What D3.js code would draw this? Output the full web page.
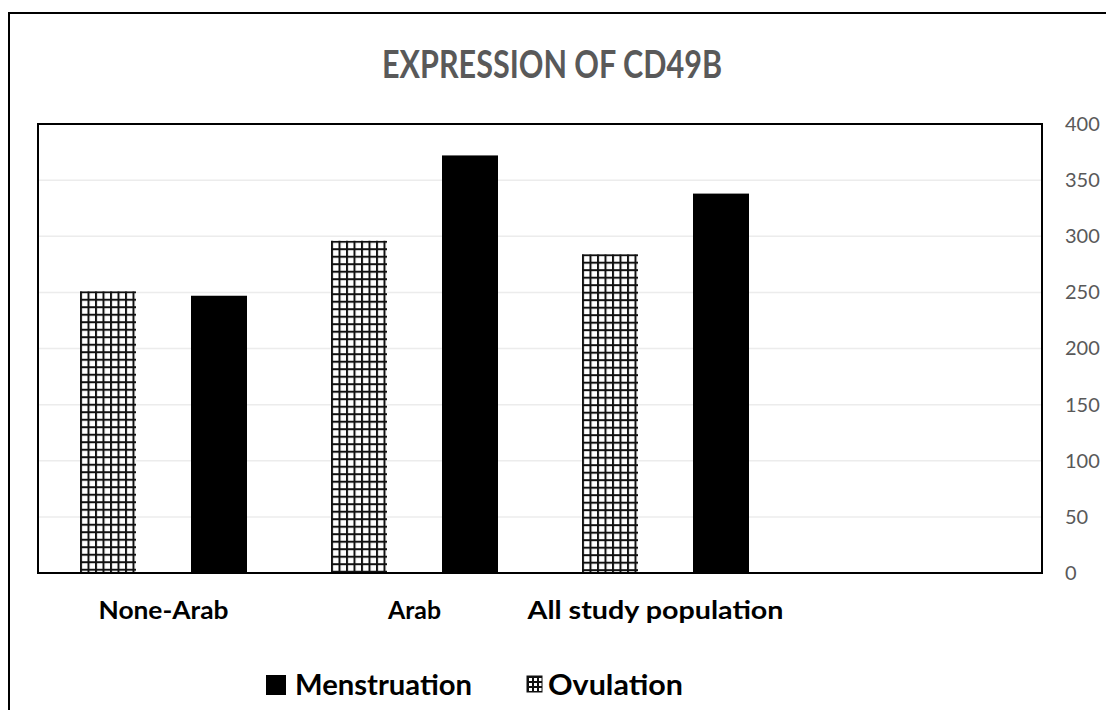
<!DOCTYPE html>
<html>
<head>
<meta charset="utf-8">
<script src="https://cdn.jsdelivr.net/npm/d3@7"></script>
<style>
  body { margin: 0; background: #fff; }
  svg text { font-family: Lato, "Open Sans", sans-serif; }
</style>
</head>
<body>
<svg id="chart" width="1106" height="710"></svg>
<script>
// data
var categories = ["None-Arab", "Arab", "All study population", ""];
var ovulation = [251, 296, 284, null];
var menstruation = [247, 372, 338, null];
var yTicks = [0, 50, 100, 150, 200, 250, 300, 350, 400];
var seriesNames = ["Menstruation", "Ovulation"];

var svg = d3.select("#chart"),
    width = 1106,
    height = 710;

var plot = {left: 38, top: 124, right: 1042, bottom: 573};

var x = d3.scaleBand()
    .domain(categories.map(function (d, i) { return i; }))
    .range([plot.left, plot.right]);

var y = d3.scaleLinear()
    .domain([0, 400])
    .range([plot.bottom, plot.top]);

var defs = svg.append("defs");

// grid hatch, one pattern per bar so it lines up with the bar edge
function hatch(id, x0, y0, step) {
    var p = defs.append("pattern")
        .attr("id", id)
        .attr("patternUnits", "userSpaceOnUse")
        .attr("x", x0)
        .attr("y", y0)
        .attr("width", step)
        .attr("height", step);
    p.append("rect").attr("width", step).attr("height", step).attr("fill", "#fff");
    p.append("rect").attr("x", 0).attr("y", 0).attr("width", 2).attr("height", step).attr("fill", "#111");
    p.append("rect").attr("x", 0).attr("y", 0).attr("width", step).attr("height", 2).attr("fill", "#111");
    return "url(#" + id + ")";
}

// outer chart border (runs past the right and bottom edge)
svg.append("rect")
    .attr("x", 9)
    .attr("y", 13)
    .attr("width", width + 20)
    .attr("height", height + 20)
    .attr("fill", "none")
    .attr("stroke", "#000")
    .attr("stroke-width", 2);

// title
svg.append("text")
    .attr("x", 552)
    .attr("y", 78)
    .attr("text-anchor", "middle")
    .attr("fill", "#595959")
    .attr("font-size", 38)
    .attr("font-weight", "bold")
    .attr("textLength", 340)
    .attr("lengthAdjust", "spacingAndGlyphs")
    .text("EXPRESSION OF CD49B");

// gridlines
svg.append("g")
    .selectAll("line")
    .data(yTicks.slice(1))
    .enter().append("line")
    .attr("x1", plot.left)
    .attr("x2", plot.right)
    .attr("y1", function (d) { return y(d); })
    .attr("y2", function (d) { return y(d); })
    .attr("stroke", "#ececec")
    .attr("stroke-width", 1.5);

// right axis labels
var yAxis = d3.axisRight(y)
    .tickValues(yTicks)
    .tickSize(0)
    .tickPadding(0);
var ag = svg.append("g")
    .attr("transform", "translate(" + (plot.right + 23) + ",0)")
    .call(yAxis);
ag.select(".domain").remove();
ag.selectAll("text")
    .attr("fill", "#595959")
    .attr("font-size", 20)
    .attr("font-family", "Lato, sans-serif");

// bars
var barW = 56, pad = 42;
var bars = svg.append("g");
categories.forEach(function (c, i) {
    if (ovulation[i] != null) {
        var bx = x(i) + pad, by = y(ovulation[i]);
        bars.append("rect")
            .attr("x", bx)
            .attr("y", by)
            .attr("width", barW)
            .attr("height", y(0) - by)
            .attr("fill", hatch("hatch" + i, bx, by, 7.5));
    }
    if (menstruation[i] != null) {
        var mx = x(i) + x.bandwidth() - pad - barW, my = y(menstruation[i]);
        bars.append("rect")
            .attr("x", mx)
            .attr("y", my)
            .attr("width", barW)
            .attr("height", y(0) - my)
            .attr("fill", "#000");
    }
});

// plot frame
svg.append("rect")
    .attr("x", plot.left)
    .attr("y", plot.top)
    .attr("width", plot.right - plot.left)
    .attr("height", plot.bottom - plot.top)
    .attr("fill", "none")
    .attr("stroke", "#000")
    .attr("stroke-width", 2);

// category labels
var labelW = [130, 53, 256, 0];
svg.append("g")
    .selectAll("text")
    .data(categories)
    .enter().append("text")
    .attr("x", function (d, i) { return x(i) + x.bandwidth() / 2 - (i == 2 ? 10 : 0); })
    .attr("y", 619)
    .attr("text-anchor", "middle")
    .attr("font-size", 25)
    .attr("font-weight", "bold")
    .attr("fill", "#000")
    .each(function (d, i) {
        if (labelW[i]) d3.select(this).attr("textLength", labelW[i]).attr("lengthAdjust", "spacingAndGlyphs");
    })
    .text(function (d) { return d; });

// legend
var leg = svg.append("g");
leg.append("rect")
    .attr("x", 266).attr("y", 675)
    .attr("width", 20).attr("height", 20)
    .attr("fill", "#000");
leg.append("text")
    .attr("x", 295).attr("y", 695)
    .attr("font-size", 29)
    .attr("font-weight", "bold")
    .attr("textLength", 177)
    .attr("lengthAdjust", "spacingAndGlyphs")
    .text(seriesNames[0]);
leg.append("rect")
    .attr("x", 527).attr("y", 676)
    .attr("width", 15).attr("height", 16)
    .attr("fill", hatch("hatchLeg", 527, 676, 5))
    .attr("stroke", "#111")
    .attr("stroke-width", 1);
leg.append("text")
    .attr("x", 548).attr("y", 695)
    .attr("font-size", 29)
    .attr("font-weight", "bold")
    .attr("textLength", 135)
    .attr("lengthAdjust", "spacingAndGlyphs")
    .text(seriesNames[1]);
</script>
</body>
</html>
